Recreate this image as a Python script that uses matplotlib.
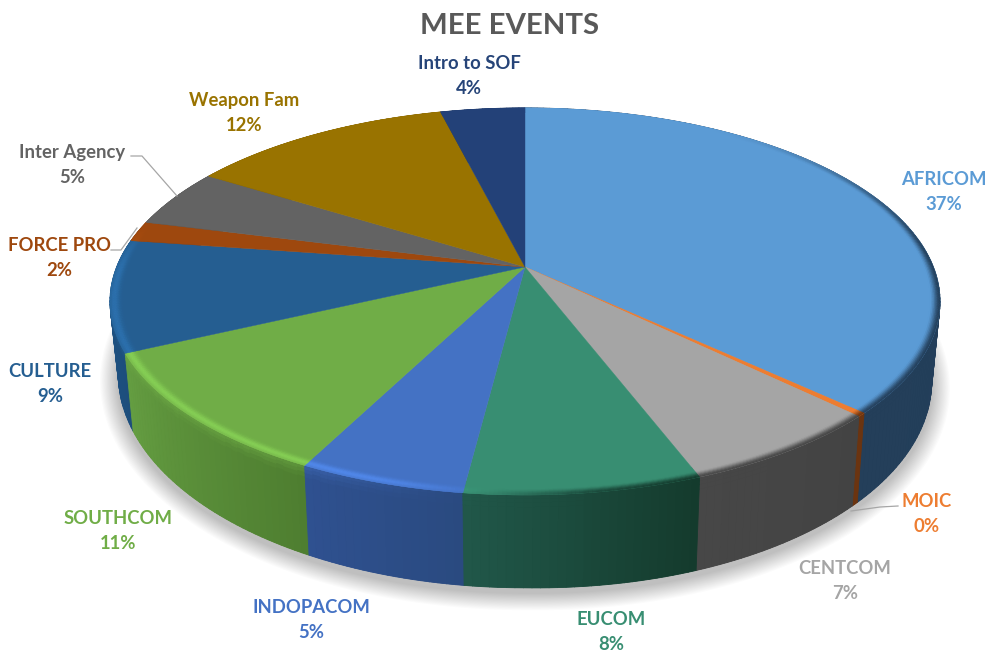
import numpy as np
import matplotlib
matplotlib.use("Agg")
import matplotlib.pyplot as plt
from matplotlib.collections import PolyCollection
from matplotlib.colors import to_rgb
from matplotlib.patches import Polygon

categories = ["AFRICOM", "MOIC", "CENTCOM", "EUCOM", "INDOPACOM", "SOUTHCOM",
              "CULTURE", "FORCE PRO", "Inter Agency", "Weapon Fam", "Intro to SOF"]
values = [37.0, 0.3, 6.9, 7.8, 5.5, 10.5, 9.3, 1.7, 4.9, 12.2, 3.9]
percent_labels = ["37%", "0%", "7%", "8%", "5%", "11%", "9%", "2%", "5%", "12%", "4%"]
top_colors = ["#5b9bd5", "#ed7d31", "#a5a5a5", "#388e72", "#4472c4", "#70ad47",
              "#255e91", "#9e480e", "#636363", "#997300", "#234178"]
wall_start = ["#1f3c58", "#6b3410", "#434343", "#143a2c", "#2a4a80", "#4e7e30",
              "#1d4e7c", "#5f2c08", "#3b3b3b", "#5c4500", "#152848"]
wall_end = ["#243f5a", "#6b3410", "#474747", "#21584a", "#2f5190", "#659e42",
            "#1f5588", "#5f2c08", "#3b3b3b", "#5c4500", "#152848"]
label_colors = top_colors[:-1] + ["#264478"]
label_xy = [(944, 192), (927, 514), (845, 581), (611, 632), (311, 620), (118, 531),
            (50, 384), (59, 258), (72, 165), (244, 113), (469, 76)]

# perspective model of the disc, in image pixels
CX, CY, D, C, A = 525.0, 267.0, 408.4, 0.178, -187.4
BY, BA, BS = 336.0, -207.0, 0.98


def top_pt(r, t):
    u, v = r * np.sin(t), r * np.cos(t)
    w = 1 + C * v
    return CX + D * u / w, CY + A * v / w


def bot_pt(r, t):
    u, v = r * np.sin(t), r * np.cos(t)
    w = 1 + C * v
    return CX + BS * D * u / w, BY + BA * v / w + 7 * np.clip(u, 0, 1)


def mix(a, b, w):
    return tuple((1 - w) * np.array(a) + w * np.array(b))


def smooth(x, a, b):
    s = np.clip((x - a) / (b - a), 0, 1)
    return s * s * (3 - 2 * s)


plt.rcParams["font.family"] = ["Lato", "DejaVu Sans"]
fig = plt.figure(figsize=(9.87, 6.51), dpi=100)
ax = fig.add_axes([0, 0, 1, 1])
ax.set_xlim(0, 987)
ax.set_ylim(651, 0)
ax.axis("off")

fr = np.cumsum([0] + values) / sum(values) * 2 * np.pi
ring = np.linspace(0, 2 * np.pi, 361)

# soft shadow under the pie
for k in range(16):
    g = 1 + 0.0028 * (16 - k)
    bx, by = bot_pt(1.0, ring)
    sx = CX + (bx - CX) * g
    sy = 346 + (by - 346) * (1 + 0.0045 * (16 - k)) + 5
    ax.add_patch(Polygon(np.c_[sx, sy], closed=True, fc="black", ec="none", alpha=0.014, zorder=1))

# side wall: a flat underlay per slice, then the shaded bands
wall_polys, wall_cols, wall_key = [], [], []
z_steps = [0, 0.04, 0.08, 0.13, 1.0]
for i in range(len(values)):
    t0, t1 = fr[i], fr[i + 1]
    n = max(2, int(np.degrees(t1 - t0)))
    ts = np.linspace(t0, t1, n + 1)
    base = to_rgb(top_colors[i])
    tx, ty = top_pt(1, ts)
    bx, by = bot_pt(1, ts)
    under = mix(to_rgb(wall_start[i]), to_rgb(wall_end[i]), 0.5)
    ax.add_patch(Polygon(np.r_[np.c_[tx, ty], np.c_[bx, by][::-1]], closed=True,
                         fc=under, ec="none", zorder=2))
    for a, b in zip(ts[:-1], ts[1:]):
        xa, ya = top_pt(1, a)
        xb, yb = top_pt(1, b)
        xc, yc = bot_pt(1, b)
        xd, yd = bot_pt(1, a)
        f = ((a + b) / 2 - t0) / (t1 - t0)
        col = mix(to_rgb(wall_start[i]), to_rgb(wall_end[i]), f)
        mid = (a + b) / 2
        lit = smooth(mid, np.radians(185), np.radians(215)) * 0.55
        for z0, z1 in zip(z_steps[:-1], z_steps[1:]):
            p = [(xa + (xd - xa) * z0, ya + (yd - ya) * z0),
                 (xb + (xc - xb) * z0, yb + (yc - yb) * z0),
                 (xb + (xc - xb) * z1, yb + (yc - yb) * z1),
                 (xa + (xd - xa) * z1, ya + (yd - ya) * z1)]
            zm = (z0 + z1) / 2
            wall_polys.append(p)
            wall_cols.append(mix(col, base, lit * max(0, 1 - zm / 0.13)))
            wall_key.append(-np.cos(mid))
order = np.argsort(wall_key)
ax.add_collection(PolyCollection([wall_polys[j] for j in order],
                                 facecolors=[wall_cols[j] for j in order],
                                 edgecolors=[wall_cols[j] for j in order],
                                 linewidths=0.6, zorder=2.5))

# top face
for i in range(len(values)):
    ts = np.linspace(fr[i], fr[i + 1], max(2, int(np.degrees(fr[i + 1] - fr[i])) + 2))
    x, y = top_pt(1.0, ts)
    ax.add_patch(Polygon(np.r_[[[CX, CY]], np.c_[x, y]], closed=True,
                         fc=top_colors[i], ec=top_colors[i], lw=0.3, zorder=3))

# bevel along the rim
radii = np.linspace(0.96, 1.0, 13)
bev_polys, bev_cols = [], []
for i in range(len(values)):
    t0, t1 = fr[i], fr[i + 1]
    n = max(2, int(np.degrees(t1 - t0)) * 2)
    ts = np.linspace(t0, t1, n + 1)
    base = to_rgb(top_colors[i])
    bright = tuple(min(1, c * 1.2) for c in base)
    for a, b in zip(ts[:-1], ts[1:]):
        mid = (a + b) / 2
        deg = np.degrees(mid)
        f = (mid - t0) / (t1 - t0)
        wall = mix(to_rgb(wall_start[i]), to_rgb(wall_end[i]), f)
        dark = smooth(deg, 30, 90) * (1 - smooth(deg, 170, 190))
        light = smooth(deg, 180, 200) * (1 - smooth(deg, 268, 285))
        for r0, r1 in zip(radii[:-1], radii[1:]):
            rm = (r0 + r1) / 2
            wd = smooth(rm, 0.977, 1.0) * dark
            wl = np.exp(-((rm - 0.99) / 0.011) ** 2) * light
            col = mix(mix(base, wall, wd), bright, wl)
            bev_polys.append([top_pt(r0, a), top_pt(r0, b), top_pt(r1, b), top_pt(r1, a)])
            bev_cols.append(col)
ax.add_collection(PolyCollection(bev_polys, facecolors=bev_cols, edgecolors=bev_cols,
                                 linewidths=0.3, zorder=4))

# leader lines
lead = "#a6a6a6"
ax.plot([131, 142, 177], [156, 156, 196], color=lead, lw=0.9, zorder=5)
ax.plot([111, 121, 137], [250, 250, 228], color=lead, lw=0.9, zorder=5)
ax.plot([898, 880, 851], [506, 507, 511], color=lead, lw=0.9, zorder=5)

# text
ax.text(510, 26, "MEE EVENTS", ha="center", va="center", fontsize=21.2,
        fontweight="bold", color="#595959", zorder=6)
for name, pct, col, (x, y) in zip(categories, percent_labels, label_colors, label_xy):
    ax.text(x, y, f"{name}\n{pct}", ha="center", va="center", fontsize=13.3,
            fontweight="bold", color=col, linespacing=1.55, zorder=6)

fig.savefig("out.png", dpi=100)
